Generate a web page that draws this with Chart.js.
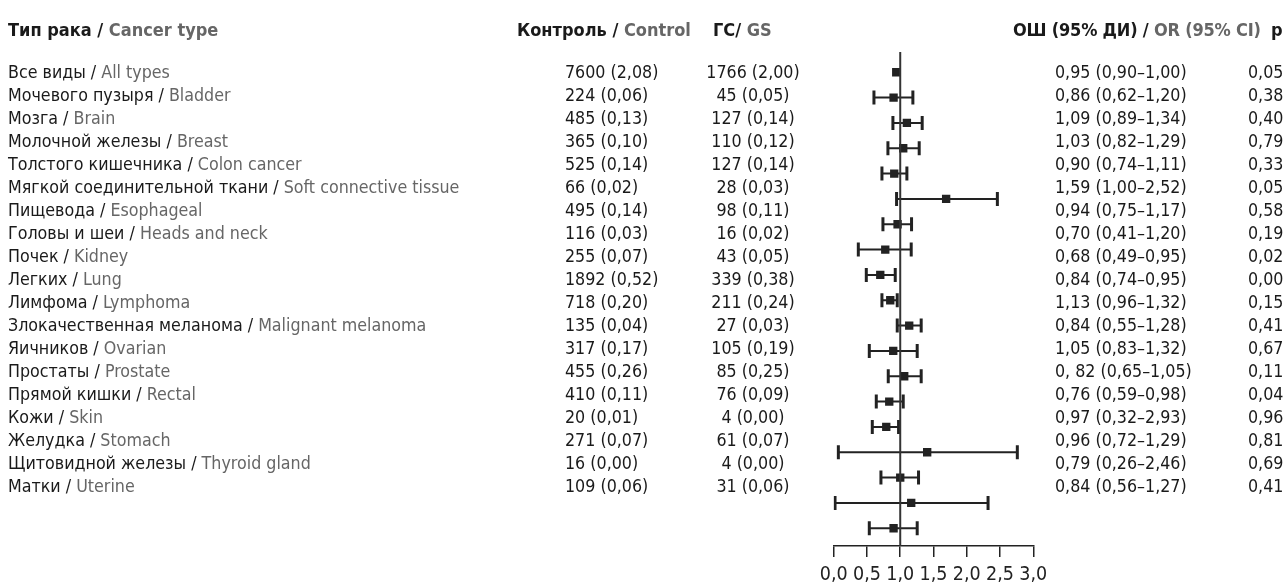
<!DOCTYPE html>
<html lang="ru">
<head>
<meta charset="UTF-8">
<title>Forest plot</title>
<script src="https://cdn.jsdelivr.net/npm/chart.js"></script>
<style>
    body {
        margin: 0;
        background: #fff;
        font-family: 'DejaVu Sans Condensed', sans-serif;
        color: #1a1a1a;
    }
    .page {
        position: relative;
        width: 1288px;
        height: 583px;
        overflow: hidden;
    }
    #forest {
        position: absolute;
        left: 0;
        top: 0;
    }
    .head {
        position: absolute;
        top: 19px;
        font-weight: bold;
        font-size: 18px;
        line-height: 22px;
        white-space: nowrap;
    }
    .en {
        color: #666;
    }
    .col {
        position: absolute;
        top: 61px;
        font-size: 17.7px;
        line-height: 23px;
        white-space: nowrap;
    }
    .col div {
        height: 23px;
    }
</style>
</head>
<body>
<div class="page">
    <canvas id="forest" width="1288" height="583"></canvas>

    <div class="head" style="left:8px">Тип рака / <span class="en">Cancer type</span></div>
    <div class="head" style="left:517px">Контроль / <span class="en">Control</span></div>
    <div class="head" style="left:713px">ГС/ <span class="en">GS</span></div>
    <div class="head" style="left:1013px;letter-spacing:-0.2px">ОШ (95% ДИ) / <span class="en">OR (95% CI)</span></div>
    <div class="head" style="left:1271px">p</div>

    <div class="col" id="colType" style="left:8px"></div>
    <div class="col" id="colControl" style="left:565px"></div>
    <div class="col" id="colGs" style="left:703px;width:100px;text-align:center"></div>
    <div class="col" id="colOr" style="left:1055px"></div>
    <div class="col" id="colP" style="left:1248px"></div>
</div>

<script>
    // table text
    var typesRu = ['Все виды', 'Мочевого пузыря', 'Мозга', 'Молочной железы', 'Толстого кишечника',
        'Мягкой соединительной ткани', 'Пищевода', 'Головы и шеи', 'Почек', 'Легких', 'Лимфома',
        'Злокачественная меланома', 'Яичников', 'Простаты', 'Прямой кишки', 'Кожи', 'Желудка',
        'Щитовидной железы', 'Матки'];
    var typesEn = ['All types', 'Bladder', 'Brain', 'Breast', 'Colon cancer', 'Soft connective tissue',
        'Esophageal', 'Heads and neck', 'Kidney', 'Lung', 'Lymphoma', 'Malignant melanoma', 'Ovarian',
        'Prostate', 'Rectal', 'Skin', 'Stomach', 'Thyroid gland', 'Uterine'];
    var controlText = ['7600 (2,08)', '224 (0,06)', '485 (0,13)', '365 (0,10)', '525 (0,14)', '66 (0,02)',
        '495 (0,14)', '116 (0,03)', '255 (0,07)', '1892 (0,52)', '718 (0,20)', '135 (0,04)', '317 (0,17)',
        '455 (0,26)', '410 (0,11)', '20 (0,01)', '271 (0,07)', '16 (0,00)', '109 (0,06)'];
    var gsText = ['1766 (2,00)', '45 (0,05)', '127 (0,14)', '110 (0,12)', '127 (0,14)', '28 (0,03)',
        '98 (0,11)', '16 (0,02)', '43 (0,05)', '339 (0,38)', '211 (0,24)', '27 (0,03)', '105 (0,19)',
        '85 (0,25)', '76 (0,09)', '4 (0,00)', '61 (0,07)', '4 (0,00)', '31 (0,06)'];
    var orText = ['0,95 (0,90–1,00)', '0,86 (0,62–1,20)', '1,09 (0,89–1,34)', '1,03 (0,82–1,29)',
        '0,90 (0,74–1,11)', '1,59 (1,00–2,52)', '0,94 (0,75–1,17)', '0,70 (0,41–1,20)', '0,68 (0,49–0,95)',
        '0,84 (0,74–0,95)', '1,13 (0,96–1,32)', '0,84 (0,55–1,28)', '1,05 (0,83–1,32)', '0, 82 (0,65–1,05)',
        '0,76 (0,59–0,98)', '0,97 (0,32–2,93)', '0,96 (0,72–1,29)', '0,79 (0,26–2,46)', '0,84 (0,56–1,27)'];
    var pText = ['0,05', '0,38', '0,40', '0,79', '0,33', '0,05', '0,58', '0,19', '0,02', '0,00', '0,15',
        '0,41', '0,67', '0,11', '0,04', '0,96', '0,81', '0,69', '0,41'];

    // plotted marks (as drawn in the figure); first row has no visible whiskers
    var orPoint = [0.94, 0.90, 1.10, 1.045, 0.91, 1.69, 0.96, 0.775, 0.70, 0.85, 1.135, 0.895, 1.06,
        0.835, 0.79, 1.405, 1.00, 1.165, 0.90];
    var ciLow = [null, 0.605, 0.89, 0.815, 0.725, 0.945, 0.74, 0.37, 0.49, 0.725, 0.955, 0.535, 0.82,
        0.64, 0.58, 0.07, 0.71, 0.02, 0.535];
    var ciHigh = [null, 1.19, 1.33, 1.285, 1.10, 2.46, 1.17, 1.165, 0.925, 0.955, 1.315, 1.255, 1.315,
        1.045, 0.975, 2.76, 1.275, 2.32, 1.255];
    var xTicks = [0, 0.5, 1, 1.5, 2, 2.5, 3];

    function fillCol(id, fn) {
        var el = document.getElementById(id);
        el.innerHTML = typesRu.map(function (_, i) { return '<div>' + fn(i) + '</div>'; }).join('');
    }
    fillCol('colType', function (i) { return typesRu[i] + ' / <span class="en">' + typesEn[i] + '</span>'; });
    fillCol('colControl', function (i) { return controlText[i]; });
    fillCol('colGs', function (i) { return gsText[i]; });
    fillCol('colOr', function (i) { return orText[i]; });
    fillCol('colP', function (i) { return pText[i]; });

    var ink = '#222';
    var datasets = [];

    // reference line at OR = 1
    datasets.push({
        type: 'line',
        data: [{ x: 1, y: -0.8 }, { x: 1, y: 18.7 }],
        borderColor: '#333',
        borderWidth: 2,
        pointRadius: 0
    });

    // CI whiskers + caps
    var caps = [];
    orPoint.forEach(function (_, i) {
        if (ciLow[i] === null) return;
        datasets.push({
            type: 'line',
            data: [{ x: ciLow[i], y: i }, { x: ciHigh[i], y: i }],
            borderColor: ink,
            borderWidth: 2,
            pointRadius: 0
        });
        caps.push({ x: ciLow[i], y: i });
        caps.push({ x: ciHigh[i], y: i });
    });
    datasets.push({
        type: 'scatter',
        data: caps,
        pointStyle: 'line',
        rotation: 90,
        pointRadius: 7,
        borderColor: ink,
        borderWidth: 3
    });

    // OR squares
    datasets.push({
        type: 'scatter',
        data: orPoint.map(function (v, i) { return { x: v, y: i }; }),
        pointStyle: 'rect',
        pointRadius: 5.9,
        backgroundColor: ink,
        borderColor: ink,
        borderWidth: 0
    });

    new Chart(document.getElementById('forest'), {
        type: 'scatter',
        data: { datasets: datasets },
        options: {
            responsive: false,
            animation: false,
            layout: { padding: { left: 833.7, right: 254.7, top: 52, bottom: 0 } },
            plugins: { legend: { display: false }, tooltip: { enabled: false } },
            scales: {
                x: {
                    type: 'linear',
                    min: 0,
                    max: 3,
                    afterBuildTicks: function (axis) {
                        axis.ticks = xTicks.map(function (v) { return { value: v }; });
                    },
                    afterFit: function (axis) {
                        axis.height = 37;
                    },
                    grid: { drawOnChartArea: false, tickLength: 11, color: ink, lineWidth: 1.5 },
                    border: { color: ink, width: 1.5 },
                    ticks: {
                        autoSkip: false,
                        maxRotation: 0,
                        padding: 6,
                        color: ink,
                        font: { family: "'DejaVu Sans Condensed', sans-serif", size: 19.5 },
                        callback: function (v) { return v.toFixed(1).replace('.', ','); }
                    }
                },
                y: {
                    type: 'linear',
                    reverse: true,
                    min: -0.8,
                    max: 18.7,
                    display: false
                }
            }
        }
    });
</script>
</body>
</html>
